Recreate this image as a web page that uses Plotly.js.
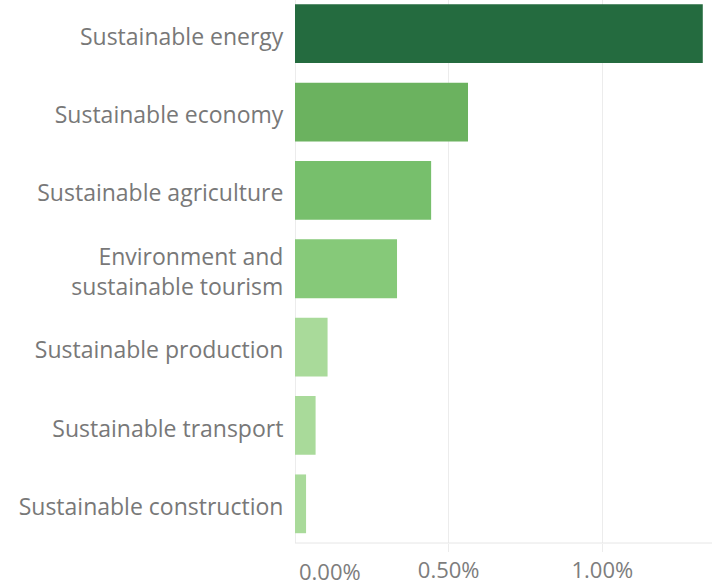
<!DOCTYPE html>
<html>
<head>
<meta charset="utf-8">
<script src="https://cdn.plot.ly/plotly-3.0.1.min.js"></script>
<style>html,body{margin:0;padding:0;background:#fff;}#chart{width:712px;height:587px;}</style>
</head>
<body>
<div id="chart"></div>
<script>
var categories = ["Sustainable energy", "Sustainable economy", "Sustainable agriculture", "Environment and<br>sustainable tourism", "Sustainable production", "Sustainable transport", "Sustainable construction"];
var values = [1.327, 0.563, 0.443, 0.332, 0.106, 0.067, 0.036];
var barColors = ["#246B3F", "#6BB25F", "#77BF6C", "#86C979", "#A9DA9A", "#A9DA9A", "#A9DA9A"];
var tickVals = [0, 0.5, 1.0];
var tickLabels = ["0.00%", "0.50%", "1.00%"];

var fontFam = "'Open Sans', 'Noto Sans', sans-serif";
var trace = {
  type: "bar",
  orientation: "h",
  x: values,
  y: categories,
  marker: {color: barColors},
  hoverinfo: "none"
};
var layout = {
  width: 712, height: 587,
  margin: {l: 295, r: 0, t: 0, b: 44},
  paper_bgcolor: "#fff", plot_bgcolor: "#fff",
  showlegend: false,
  bargap: 0.25,
  font: {family: fontFam, color: "#787878", size: 23},
  xaxis: {
    range: [0, 1.357],
    tickvals: tickVals.slice(1),
    ticktext: tickLabels.slice(1),
    showgrid: true, gridcolor: "#ececec", gridwidth: 1,
    zeroline: true, zerolinecolor: "#ececec", zerolinewidth: 1,
    ticks: "outside", ticklen: 8, tickcolor: "#ececec",
    tickfont: {family: fontFam, size: 22, color: "#7d7d7d"},
    showline: false,
    fixedrange: true
  },
  yaxis: {
    type: "category",
    categoryorder: "array",
    categoryarray: categories,
    range: [6.5, -0.43],
    tickfont: {family: fontFam, size: 23, color: "#787878"},
    ticks: "outside", ticklen: 6, tickcolor: "rgba(0,0,0,0)",
    ticklabelshift: -3,
    showgrid: false, zeroline: false,
    showline: false,
    fixedrange: true
  },
  shapes: [{
    type: "line", xref: "paper", yref: "paper",
    x0: 0, x1: 1, y0: 0, y1: 0,
    line: {color: "#e6e6e6", width: 1}
  }],
  annotations: [{
    x: tickVals[0], xref: "x", y: 0, yref: "paper",
    yshift: -11, xshift: 2,
    xanchor: "left", yanchor: "top",
    text: tickLabels[0], showarrow: false,
    font: {family: fontFam, size: 22, color: "#7d7d7d"}
  }]
};
Plotly.newPlot("chart", [trace], layout, {displayModeBar: false, staticPlot: true});
</script>
</body>
</html>
